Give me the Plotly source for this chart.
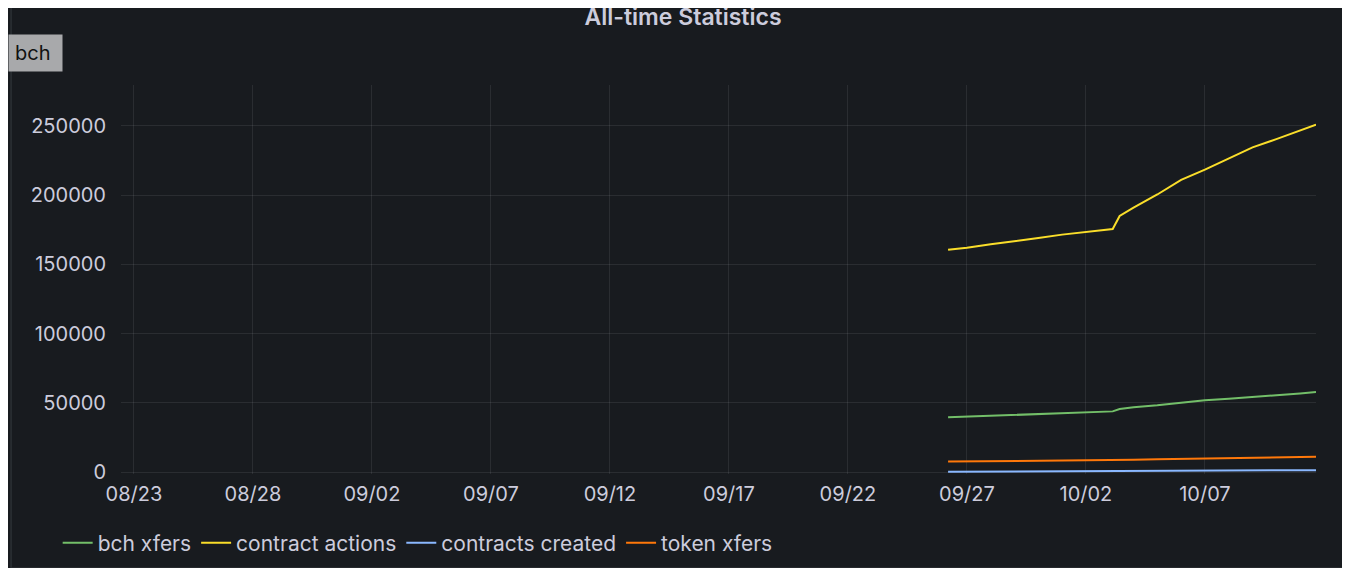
import plotly.graph_objects as go

times = ["2021-09-26 05:00","2021-09-27 00:00","2021-09-28 00:00","2021-09-29 00:00","2021-09-30 00:00",
         "2021-10-01 00:00","2021-10-02 00:00","2021-10-03 03:00","2021-10-03 10:00","2021-10-04 00:00",
         "2021-10-05 00:00","2021-10-06 00:00","2021-10-07 00:00","2021-10-08 00:00","2021-10-09 00:00",
         "2021-10-10 00:00","2021-10-11 00:00","2021-10-11 16:00"]
contract_actions = [160500,162000,164500,166500,169000,171500,173500,175500,185000,191000,
                    200500,211000,218500,226500,234500,240500,246500,251000]
bch_xfers = [39500,40000,40600,41200,41800,42400,43000,43800,45500,46800,
             48200,50200,51800,53000,54500,55500,56800,57800]
token_xfers = [7500,7600,7700,7800,7900,8100,8300,8500,8700,8900,
               9300,9600,9900,10200,10400,10500,10700,11000]
contracts_created = [200,250,300,350,400,450,500,550,900,950,
                     1000,1050,1100,1150,1200,1250,1300,1350]

tickvals = ["2021-08-23","2021-08-28","2021-09-02","2021-09-07","2021-09-12",
            "2021-09-17","2021-09-22","2021-09-27","2021-10-02","2021-10-07"]
ticktext = ["08/23","08/28","09/02","09/07","09/12","09/17","09/22","09/27","10/02","10/07"]

fig = go.Figure()
for name, ys, col in [("bch xfers", bch_xfers, "#73bf69"),
                      ("contract actions", contract_actions, "#fade2a"),
                      ("contracts created", contracts_created, "#8ab8ff"),
                      ("token xfers", token_xfers, "#ff780a")]:
    fig.add_trace(go.Scatter(x=times, y=ys, name=name, mode="lines",
                             line=dict(color=col, width=2)))

fig.update_layout(
    width=1350, height=568, paper_bgcolor="#181b1f", plot_bgcolor="#181b1f",
    margin=dict(l=113, r=42, t=77, b=102, autoexpand=False),
    font=dict(family="Inter, Roboto, sans-serif", color="#ccccdc", size=20),
    title=dict(text="All-time Statistics", x=0.5, xanchor="center", y=0.999, yanchor="top",
               font=dict(size=23, color="#ccccdc", weight=600)),
    showlegend=True,
    legend=dict(orientation="h", x=-0.053, xanchor="left", y=-0.125, yanchor="top",
                font=dict(size=21, color="#ccccdc"), bgcolor="rgba(0,0,0,0)"),
    xaxis=dict(type="date", range=["2021-08-22 11:00", "2021-10-11 16:00"],
               tickvals=tickvals, ticktext=ticktext, showgrid=True, automargin=False,
               gridcolor="rgba(204,204,220,0.1)", zeroline=False, showline=False,
               ticks="outside", ticklen=2, tickcolor="rgba(0,0,0,0)"),
    yaxis=dict(range=[-1445, 279600], tickvals=[0,50000,100000,150000,200000,250000],
               tickformat="d", automargin=False,
               showgrid=True, gridcolor="rgba(204,204,220,0.1)", zeroline=False,
               ticks="outside", ticklen=10, tickcolor="rgba(0,0,0,0)"),
    shapes=[dict(type="rect", xref="paper", yref="paper", x0=-0.092, x1=1.0268, y0=-0.2416, y1=1.3,
                 line=dict(color="#2c3035", width=1.5), fillcolor="rgba(0,0,0,0)")],
    annotations=[dict(text="bch ", xref="paper", yref="paper", x=-0.0946, y=1.082, xanchor="left",
                      yanchor="middle", showarrow=False, bgcolor="#a8a9ab",
                      font=dict(color="#111111", size=20), borderpad=6)],
)
fig.write_html("out.html")
